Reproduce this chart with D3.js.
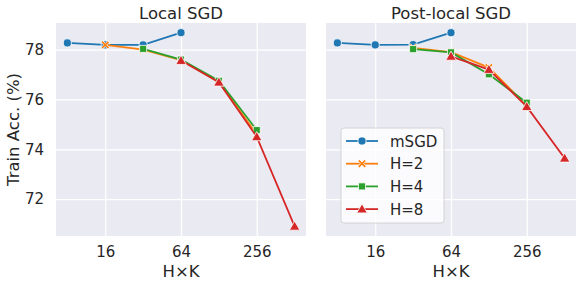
<!DOCTYPE html>
<html lang="en">
<head>
    <meta charset="utf-8">
    <title>local_sgd_train_acc</title>
    <script type="text/javascript" src="https://d3js.org/d3.v7.min.js"></script>
    <style type="text/css">
        body { margin: 0; background: #fff; }
        text { font-family: "DejaVu Sans", sans-serif; fill: #262626; }
    </style>
</head>
<body>
<script type="text/javascript">

    // H x K values and train accuracy (%)
    var panels = ["Local SGD", "Post-local SGD"];
    var series_names = ["mSGD", "H=2", "H=4", "H=8"];
    var x_ticks = [16, 64, 256];
    var y_ticks = [72, 74, 76, 78];

    var msgd_x = [8, 16, 32, 64];
    var h2_x = [16, 32, 64, 128, 256];
    var h4_x = [32, 64, 128, 256];
    var h8_x = [64, 128, 256, 512];

    var local_msgd = [78.27, 78.19, 78.19, 78.68];
    var local_h2 = [78.19, 78.0, 77.58, 76.7, 74.6];
    var local_h4 = [78.03, 77.6, 76.75, 74.77];
    var local_h8 = [77.56, 76.69, 74.5, 70.91];

    var post_msgd = [78.27, 78.19, 78.2, 78.68];
    var post_h2 = [78.07, 77.9, 77.28, 75.75];
    var post_h2_x = [32, 64, 128, 256];
    var post_h4 = [78.02, 77.89, 77.01, 75.87];
    var post_h8 = [77.73, 77.2, 75.71, 73.64];

    var colors = ["#1f77b4", "#ff7f0e", "#2ca02c", "#d62728"];

    function zip(xs, ys) {
        return xs.map((x, i) => ({x: x, y: ys[i]}));
    }

    var data = [
        [zip(msgd_x, local_msgd), zip(h2_x, local_h2), zip(h4_x, local_h4), zip(h8_x, local_h8)],
        [zip(msgd_x, post_msgd), zip(post_h2_x, post_h2), zip(h4_x, post_h4), zip(h8_x, post_h8)]
    ];

    var width = 581, height = 287;
    var top_y = 23, bottom_y = 236;
    var lefts = [56, 326], plot_w = 250;

    var svg = d3.select("body")
        .append("svg")
        .attr("width", width)
        .attr("height", height);

    // matplotlib-style 5% margins on log2 x and linear y
    var lx0 = 3 - 0.3, lx1 = 9 + 0.3;
    var ymin = 70.91, ymax = 78.68, ypad = (ymax - ymin) * 0.05;

    var y = d3.scaleLinear()
        .domain([ymin - ypad, ymax + ypad])
        .range([bottom_y, top_y]);

    var symbols = [d3.symbolCircle, d3.symbolX, d3.symbolSquare, d3.symbolTriangle];
    var sym_size = [52, 60, 50, 48];

    function marker(g, k, cx, cy) {
        if (k == 1) {
            // filled "X" marker
            var s = 4.2, t = 1.6;
            var pts = [[-s, -s + t], [-s + t, -s], [0, -t], [s - t, -s], [s, -s + t], [t, 0],
                       [s, s - t], [s - t, s], [0, t], [-s + t, s], [-s, s - t], [-t, 0]];
            g.append("polygon")
                .attr("points", pts.map(p => (cx + p[0]) + "," + (cy + p[1])).join(" "))
                .attr("fill", colors[k])
                .attr("stroke", "#fff")
                .attr("stroke-width", 0.8);
        } else {
            g.append("path")
                .attr("d", d3.symbol().type(symbols[k]).size(sym_size[k]))
                .attr("transform", "translate(" + cx + "," + (k == 3 ? cy + 0.8 : cy) + ")")
                .attr("fill", colors[k])
                .attr("stroke", "#fff")
                .attr("stroke-width", 0.8);
        }
    }

    panels.forEach(function (title, p) {
        var x = d3.scaleLog().base(2)
            .domain([Math.pow(2, lx0), Math.pow(2, lx1)])
            .range([lefts[p], lefts[p] + plot_w]);

        var g = svg.append("g");

        g.append("rect")
            .attr("x", lefts[p])
            .attr("y", top_y)
            .attr("width", plot_w)
            .attr("height", bottom_y - top_y)
            .attr("fill", "#eaeaf2");

        // grid + tick labels via axes
        var xa = g.append("g")
            .attr("transform", "translate(0," + bottom_y + ")")
            .call(d3.axisBottom(x).tickValues(x_ticks).tickFormat(d3.format("d"))
                .tickSize(-(bottom_y - top_y)).tickPadding(10));
        xa.select(".domain").remove();
        xa.selectAll("line").attr("stroke", "#fff").attr("stroke-width", 1.2);
        xa.selectAll("text").attr("font-size", 15).attr("fill", "#262626")
            .attr("font-family", "DejaVu Sans");

        var ya = g.append("g")
            .attr("transform", "translate(" + lefts[p] + ",0)")
            .call(d3.axisLeft(y).tickValues(y_ticks)
                .tickSize(-plot_w).tickPadding(12));
        ya.select(".domain").remove();
        ya.selectAll("line").attr("stroke", "#fff").attr("stroke-width", 1.2);
        ya.selectAll("text").attr("font-size", 15).attr("fill", "#262626")
            .attr("font-family", "DejaVu Sans");
        if (p == 1) ya.selectAll("text").remove();

        g.append("text")
            .attr("x", lefts[p] + plot_w / 2)
            .attr("y", 19)
            .attr("text-anchor", "middle")
            .attr("font-size", 16.5)
            .text(title);

        g.append("text")
            .attr("x", lefts[p] + plot_w / 2)
            .attr("y", 277)
            .attr("text-anchor", "middle")
            .attr("font-size", 16.5)
            .text("H\u00d7K");

        var line = d3.line().x(d => x(d.x)).y(d => y(d.y));

        data[p].forEach(function (pts, k) {
            g.append("path")
                .datum(pts)
                .attr("d", line)
                .attr("fill", "none")
                .attr("stroke", colors[k])
                .attr("stroke-width", 1.8);
            pts.forEach(function (d) {
                marker(g, k, x(d.x), y(d.y));
            });
        });
    });

    svg.append("text")
        .attr("transform", "translate(19," + ((top_y + bottom_y) / 2) + ") rotate(-90)")
        .attr("text-anchor", "middle")
        .attr("font-size", 16.5)
        .text("Train Acc. (%)");

    // legend in the right panel
    var leg = svg.append("g");
    leg.append("rect")
        .attr("x", 341)
        .attr("y", 128)
        .attr("width", 103)
        .attr("height", 95)
        .attr("rx", 3)
        .attr("fill", "#fff")
        .attr("fill-opacity", 0.8)
        .attr("stroke", "#cccccc")
        .attr("stroke-width", 0.8);

    series_names.forEach(function (name, k) {
        var ly = 141 + k * 22.7;
        leg.append("line")
            .attr("x1", 346).attr("x2", 378)
            .attr("y1", ly).attr("y2", ly)
            .attr("stroke", colors[k])
            .attr("stroke-width", 1.8);
        marker(leg, k, 362, ly);
        leg.append("text")
            .attr("x", 390)
            .attr("y", ly + 5.5)
            .attr("font-size", 15)
            .text(name);
    });

</script>
</body>
</html>
